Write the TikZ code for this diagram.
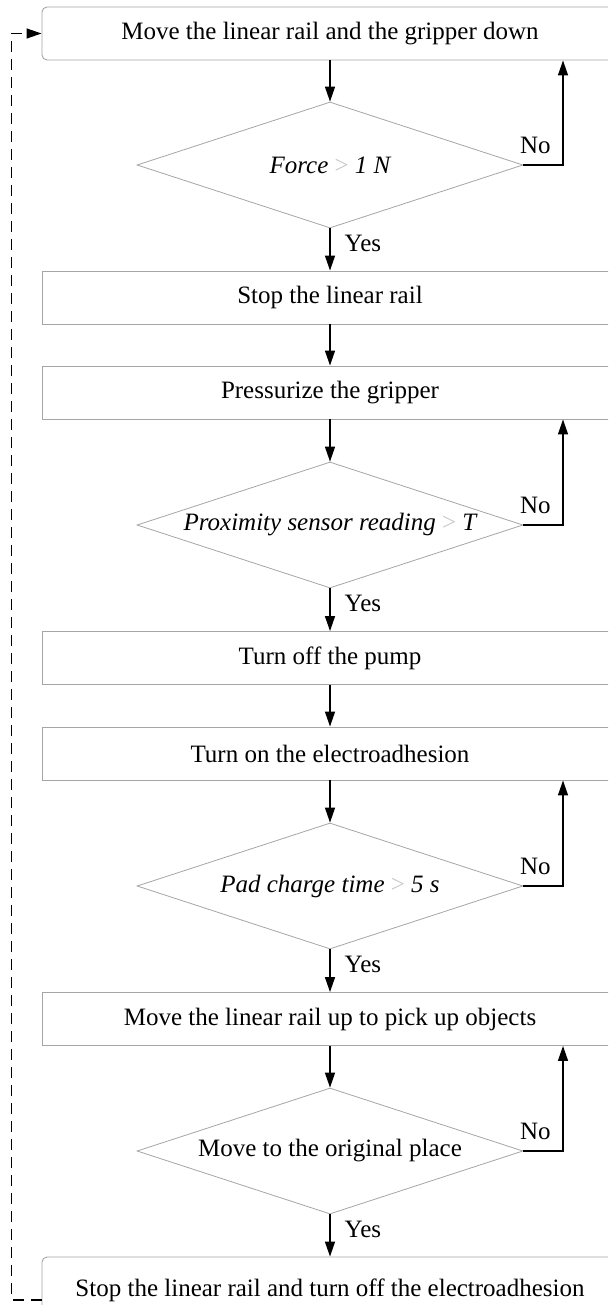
\documentclass[tikz,border=0pt]{standalone}
\usepackage{fontspec}
\setmainfont{Liberation Serif}
\usetikzlibrary{shapes.geometric,arrows.meta}
\definecolor{boxgray}{RGB}{165,165,165}
\definecolor{gtgray}{RGB}{200,200,200}
\newcommand{\gtsym}{\textcolor{gtgray}{\textup{>}}}
\begin{document}
\begin{tikzpicture}[x=1pt,y=-1pt,
  procbox/.style={draw=boxgray, line width=0.9pt, minimum width=576pt, minimum height=53pt, inner sep=0pt, font=\fontsize{25}{29}\selectfont},
  decbox/.style={draw=boxgray, line width=0.8pt, diamond, minimum width=386pt, minimum height=126pt, inner sep=0pt, font=\fontsize{25}{29}\selectfont},
  arr/.style={draw=black, line width=1.4pt, -{Triangle[length=15pt,width=10pt]}},
  dasharr/.style={arr, line width=1.3pt, dash pattern=on 11pt off 7pt},
  lbl/.style={font=\fontsize{25}{29}\selectfont, inner sep=2pt}]
\useasboundingbox (0,0) rectangle (608,1305);
\clip (0,0) rectangle (608,1305);
\node[procbox, rounded corners=5pt] (B1) at (330,33.5) {Move the linear rail and the gripper down};
\node[decbox] (D1) at (330,165) {\makebox[0pt]{\itshape Force \gtsym{} 1 N}};
\node[procbox] (B2) at (330,297.5) {Stop the linear rail};
\node[procbox] (B3) at (330,392.5) {Pressurize the gripper};
\node[decbox] (D2) at (330,525) {\makebox[0pt]{\itshape Proximity sensor reading \gtsym{} T}};
\node[procbox] (B4) at (330,658) {Turn off the pump};
\node[procbox] (B5) at (330,753.5) {Turn on the electroadhesion};
\node[decbox] (D3) at (330,886) {\makebox[0pt]{\itshape Pad charge time \gtsym{} 5 s}};
\node[procbox] (B6) at (330,1019) {Move the linear rail up to pick up objects};
\node[decbox] (D4) at (330,1151) {\makebox[0pt]{Move to the original place}};
\node[procbox, rounded corners=5pt, minimum height=66pt] (B7) at (330,1290) {Stop the linear rail and turn off the electroadhesion};

\draw[arr] (B1.south) -- (D1.north);
\draw[arr] (D1.south) -- node[lbl, right, pos=0.35, xshift=12pt] {Yes} (B2.north);
\draw[arr] (B2.south) -- (B3.north);
\draw[arr] (B3.south) -- (D2.north);
\draw[arr] (D2.south) -- node[lbl, right, pos=0.35, xshift=12pt] {Yes} (B4.north);
\draw[arr] (B4.south) -- (B5.north);
\draw[arr] (B5.south) -- (D3.north);
\draw[arr] (D3.south) -- node[lbl, right, pos=0.35, xshift=12pt] {Yes} (B6.north);
\draw[arr] (B6.south) -- (D4.north);
\draw[arr] (D4.south) -- node[lbl, right, pos=0.35, xshift=12pt] {Yes} (B7.north);

\draw[arr] (D1.east) -| node[lbl, pos=0.15, above=9pt] {No} ([xshift=233pt]B1.south);
\draw[arr] (D2.east) -| node[lbl, pos=0.15, above=9pt] {No} ([xshift=233pt]B3.south);
\draw[arr] (D3.east) -| node[lbl, pos=0.15, above=9pt] {No} ([xshift=233pt]B5.south);
\draw[arr] (D4.east) -| node[lbl, pos=0.15, above=9pt] {No} ([xshift=233pt]B6.south);

\draw[dasharr] ([yshift=-10pt]B7.west) -- ++(-30,0) |- (B1.west);
\end{tikzpicture}
\end{document}
